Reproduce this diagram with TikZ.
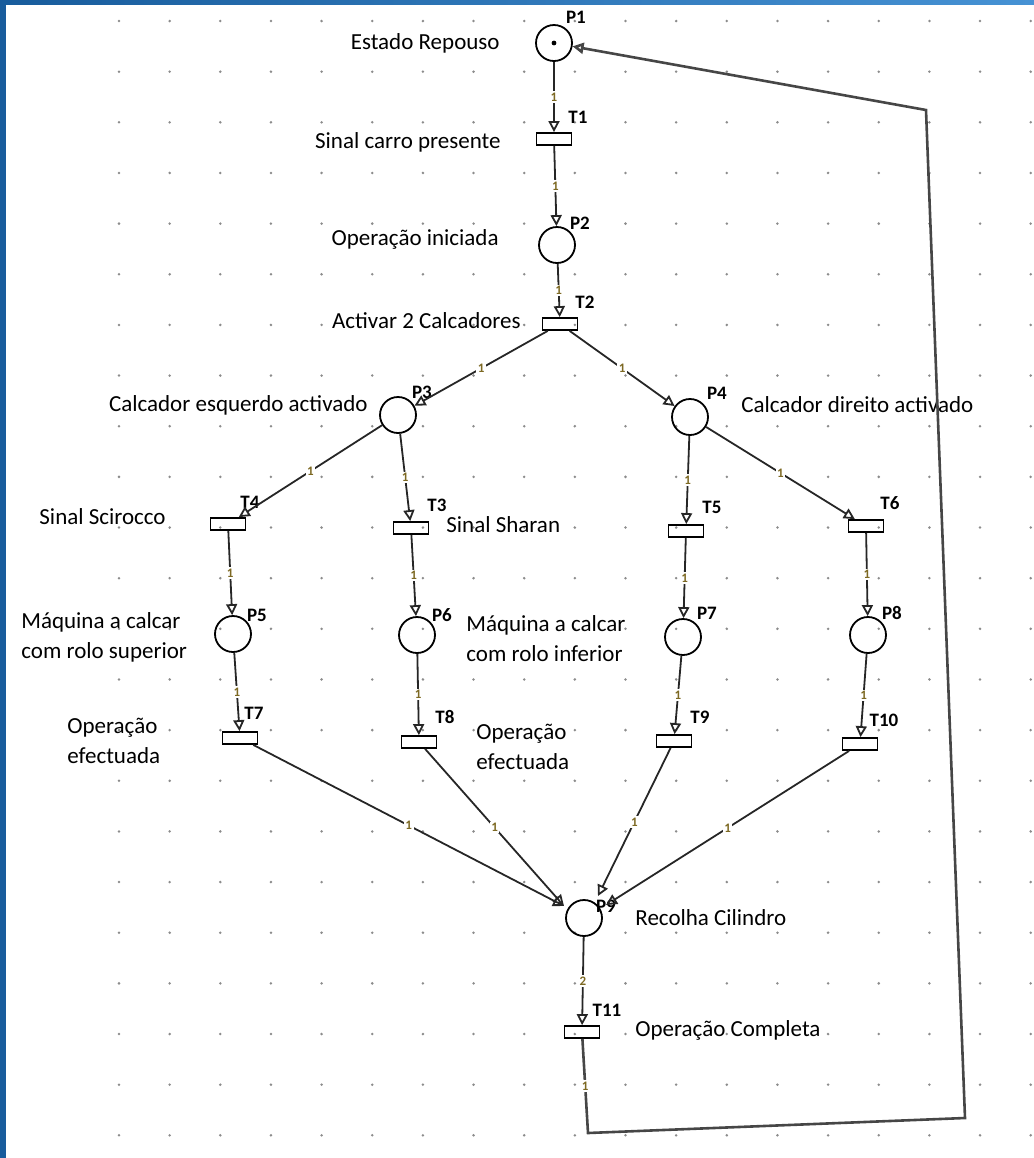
\documentclass[tikz,border=0pt]{standalone}
\usepackage{fontspec}
\setmainfont{Carlito}
\usetikzlibrary{arrows.meta}
\definecolor{frameblue}{RGB}{24,92,156}
\definecolor{framelight}{RGB}{70,146,212}
\definecolor{gridgray}{RGB}{140,140,140}
\definecolor{weightcol}{RGB}{125,105,35}
\definecolor{loopgray}{RGB}{70,70,70}
\tikzset{
  place/.style={circle,draw,line width=0.9pt,minimum size=18pt,inner sep=0pt},
  trans/.style={rectangle,draw,line width=0.9pt,minimum width=17.5pt,minimum height=6pt,inner sep=0pt},
  tag/.style={font=\fontsize{9.5}{10}\selectfont\bfseries,inner sep=0pt},
  descr/.style={font=\fontsize{11.5}{15}\selectfont,inner sep=0pt,align=left},
  arc/.style={line width=0.9pt,draw=black!85,-{Triangle[open,length=5.5pt,width=5.5pt]}},
  weight/.style={font=\fontsize{6.5}{7}\selectfont\bfseries,text=weightcol,fill=white,inner sep=0.8pt}
}
\begin{document}
\begin{tikzpicture}[x=0.5pt,y=-0.5pt]
\useasboundingbox (0,0) rectangle (1034,1158);
% Window frame
\fill[frameblue] (0,0) rectangle (6,1158);
\shade[left color=frameblue,right color=framelight] (0,0) rectangle (1034,4);

% Grid dots
\foreach \i in {0,...,18} {
  \foreach \j in {0,...,22} {
    \fill[gridgray] (119+50.65*\i,21+50.65*\j) circle[radius=0.7pt];
  }
}

% Places
\node[place] (P1) at (554,43) {};
\fill (P1.center) circle[radius=1.2pt];
\node[place] (P2) at (557,245) {};
\node[place] (P3) at (398,415) {};
\node[place] (P4) at (690,417) {};
\node[place] (P5) at (233,634) {};
\node[place] (P6) at (417,635) {};
\node[place] (P7) at (683,637) {};
\node[place] (P8) at (868,635) {};
\node[place] (P9) at (584,918) {};

% Transitions
\node[trans] (T1) at (554,139) {};
\node[trans] (T2) at (560,324) {};
\node[trans] (T3) at (411,528) {};
\node[trans] (T4) at (228,524) {};
\node[trans] (T5) at (686,531) {};
\node[trans] (T6) at (866,526) {};
\node[trans] (T7) at (240,738) {};
\node[trans] (T8) at (419,742) {};
\node[trans] (T9) at (674,741) {};
\node[trans] (T10) at (860,744) {};
\node[trans] (T11) at (582,1032) {};

% Names
\node[tag] (nP1) at (576,17) {P1};
\node[tag] (nP2) at (580,223) {P2};
\node[tag] (nP3) at (422,392) {P3};
\node[tag] (nP4) at (717,393) {P4};
\node[tag] (nP5) at (257,615) {P5};
\node[tag] (nP6) at (442,615) {P6};
\node[tag] (nP7) at (707,613) {P7};
\node[tag] (nP8) at (892,613) {P8};
\node[tag] (nP9) at (606,906) {P9};
\node[tag] (nT1) at (578,117) {T1};
\node[tag] (nT2) at (585,302) {T2};
\node[tag] (nT3) at (437,505) {T3};
\node[tag] (nT4) at (250,502) {T4};
\node[tag] (nT5) at (712,507) {T5};
\node[tag] (nT6) at (890,503) {T6};
\node[tag] (nT7) at (254,713) {T7};
\node[tag] (nT8) at (445,717) {T8};
\node[tag] (nT9) at (700,717) {T9};
\node[tag] (nT10) at (884,720) {T10};
\node[tag] (nT11) at (607,1010) {T11};

% Descriptions
\node[descr,anchor=east] (dP1) at (500,43) {Estado Repouso};
\node[descr,anchor=east] (dT1) at (501,142) {Sinal carro presente};
\node[descr,anchor=east] (dP2) at (499,239) {Operação iniciada};
\node[descr,anchor=east] (dT2) at (521,321) {Activar 2 Calcadores};
\node[descr,anchor=east] (dP3) at (368,405) {Calcador esquerdo activado};
\node[descr,anchor=west] (dP4) at (741,405) {Calcador direito activado};
\node[descr,anchor=east] (dT4) at (166,517) {Sinal Scirocco};
\node[descr,anchor=west] (dT3) at (446,525) {Sinal Sharan};
\node[descr,anchor=west] (dP5) at (21,637) {Máquina a calcar\\com rolo superior};
\node[descr,anchor=west] (dP6) at (466,639) {Máquina a calcar\\com rolo inferior};
\node[descr,anchor=west] (dT7) at (67,741) {Operação\\efectuada};
\node[descr,anchor=west] (dT8) at (476,747) {Operação\\efectuada};
\node[descr,anchor=west] (dP9) at (635,918) {Recolha Cilindro};
\node[descr,anchor=west] (dT11) at (635,1030) {Operação Completa};

% Arcs
\draw[arc] (P1) -- node[weight] {1} (T1);
\draw[arc] (T1) -- node[weight] {1} (P2);
\draw[arc] (P2) -- node[weight] {1} (T2);
\draw[arc] (T2) -- node[weight] {1} (P3);
\draw[arc] (T2) -- node[weight] {1} (P4);
\draw[arc] (P3) -- node[weight] {1} (T4);
\draw[arc] (P3) -- node[weight] {1} (T3);
\draw[arc] (P4) -- node[weight] {1} (T5);
\draw[arc] (P4) -- node[weight] {1} (T6);
\draw[arc] (T4) -- node[weight] {1} (P5);
\draw[arc] (T3) -- node[weight] {1} (P6);
\draw[arc] (T5) -- node[weight] {1} (P7);
\draw[arc] (T6) -- node[weight] {1} (P8);
\draw[arc] (P5) -- node[weight] {1} (T7);
\draw[arc] (P6) -- node[weight] {1} (T8);
\draw[arc] (P7) -- node[weight] {1} (T9);
\draw[arc] (P8) -- node[weight] {1} (T10);

% Inputs of P9
\coordinate (in78) at (564,906);
\coordinate (in9) at (598,896);
\coordinate (in10) at (606,905);
\draw[arc] (T7) -- node[weight] {1} (in78);
\draw[arc] (T8) -- node[weight] {1} (in78);
\draw[arc] (T9) -- node[weight] {1} (in9);
\draw[arc] (T10) -- node[weight] {1} (in10);
\draw[arc] (P9) -- node[weight] {2} (T11);

% Return to rest state
\coordinate (c1) at (588,1133);
\coordinate (c2) at (965,1118);
\coordinate (c3) at (926,110);
\draw[arc,line width=1.3pt,draw=loopgray] (T11) -- node[weight] {1} (c1) -- (c2) -- (c3) -- (P1);

\end{tikzpicture}
\end{document}
